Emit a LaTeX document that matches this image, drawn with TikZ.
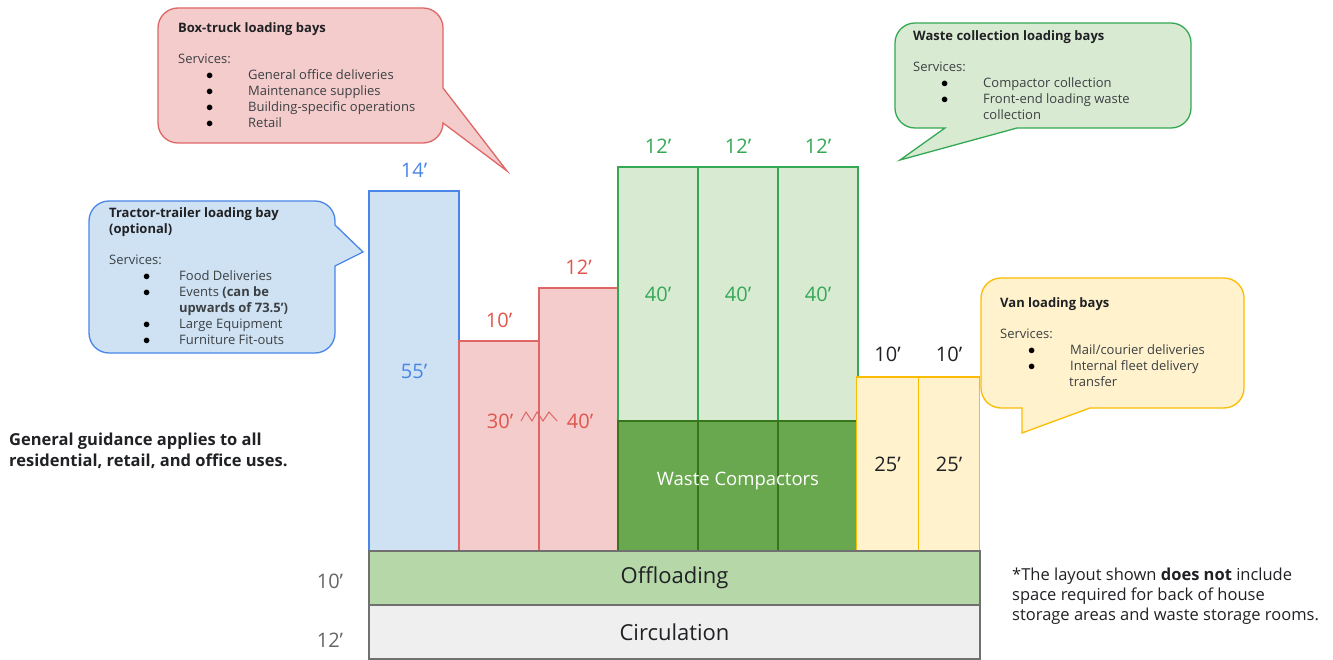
\documentclass[tikz,border=0pt]{standalone}
\usepackage{fontspec}
\setmainfont{Open Sans}
\usetikzlibrary{positioning}

\definecolor{bluefill}{HTML}{CFE2F3}
\definecolor{blueline}{HTML}{4A86E8}
\definecolor{redfill}{HTML}{F4CCCC}
\definecolor{redline}{HTML}{E06666}
\definecolor{redtext}{HTML}{E0554C}
\definecolor{greenfill}{HTML}{D9EAD3}
\definecolor{greenline}{HTML}{34A853}
\definecolor{compfill}{HTML}{6AA84F}
\definecolor{compline}{HTML}{38761D}
\definecolor{yellowfill}{HTML}{FFF2CC}
\definecolor{yellowline}{HTML}{FBBC04}
\definecolor{offfill}{HTML}{B6D7A8}
\definecolor{circfill}{HTML}{EFEFEF}
\definecolor{edgegray}{HTML}{707070}
\definecolor{dimgraytext}{HTML}{666666}
\definecolor{inktext}{HTML}{202124}
\definecolor{bodytext}{HTML}{3C4043}

% bullet line inside a callout
\newcommand{\bayitem}[2][28pt]{\hspace*{#1}\makebox[\dimexpr70pt-#1\relax][l]{\textcolor{black}{\fontsize{15}{16}\selectfont$\bullet$}}#2}

\begin{document}
\begin{tikzpicture}[x=1pt,y=-1pt,
  bay/.style={draw,line width=1.3pt,inner sep=0pt,font=\fontsize{20}{24}\selectfont},
  bluebay/.style={fill=bluefill,draw=blueline,text=blueline},
  redbay/.style={fill=redfill,draw=redline,text=redtext},
  greenbay/.style={fill=greenfill,draw=greenline,text=greenline},
  compbay/.style={fill=compfill,draw=compline},
  vanbay/.style={fill=yellowfill,draw=yellowline,text=inktext},
  dimlabel/.style={font=\fontsize{20}{24}\selectfont},
  calltext/.style={align=left,inner sep=0pt,font=\fontsize{13}{16}\selectfont,text=bodytext},
  callout/.style={line width=1.3pt}]
  \useasboundingbox (0,0) rectangle (1333,660);

  % callouts
  \draw[callout,fill=redfill,draw=redline] (443,123) [rounded corners=20] -- (443,143) -- (158,143) -- (158,8) -- (443,8) [sharp corners] -- (443,88) -- (507,171) -- cycle;
  \node[calltext,anchor=north west] (boxtext) at (178,22) {\textcolor{inktext}{\textbf{Box-truck loading bays}}\\[15pt]
    Services:\\ \bayitem{General office deliveries}\\ \bayitem{Maintenance supplies}\\
    \bayitem{Building-specific operations}\\ \bayitem{Retail}};

  \draw[callout,fill=bluefill,draw=blueline] (335,266) [rounded corners=20] -- (335,353) -- (89,353) -- (89,201) -- (335,201) [sharp corners] -- (335,225) -- (363,252) -- cycle;
  \node[calltext,anchor=north west] (tractortext) at (109,207) {\textcolor{inktext}{\textbf{Tractor-trailer loading bay}}\\
    \textcolor{inktext}{\textbf{(optional)}}\\[15pt]
    Services:\\ \bayitem[34pt]{Food Deliveries}\\ \bayitem[34pt]{Events \textbf{(can be}}\\
    \hspace*{70pt}\textbf{upwards of 73.5’)}\\ \bayitem[34pt]{Large Equipment}\\ \bayitem[34pt]{Furniture Fit-outs}};

  \draw[callout,fill=greenfill,draw=greenline] (1017,128) [rounded corners=20] -- (1191,128) -- (1191,23) -- (895,23) -- (895,128) [sharp corners] -- (945,128) -- (900,160) -- cycle;
  \node[calltext,anchor=north west] (wastetext) at (913,30) {\textcolor{inktext}{\textbf{Waste collection loading bays}}\\[15pt]
    Services:\\ \bayitem{Compactor collection}\\ \bayitem{Front-end loading waste}\\
    \hspace*{70pt}collection};

  \draw[callout,fill=yellowfill,draw=yellowline] (1090,408) [rounded corners=20] -- (1244,408) -- (1244,278) -- (981,278) -- (981,408) [sharp corners] -- (1022,408) -- (1022,433) -- cycle;
  \node[calltext,anchor=north west] (vantext) at (1000,297) {\textcolor{inktext}{\textbf{Van loading bays}}\\[15pt]
    Services:\\ \bayitem{Mail/courier deliveries}\\ \bayitem{Internal fleet delivery}\\
    \hspace*{69pt}transfer};

  % loading bays
  \node[bay,bluebay,minimum width=90pt,minimum height=360pt] (tractorbay) at (414,371) {55’};
  \node[dimlabel,text=blueline,above=9pt of tractorbay] (tractorwidth) {14’};

  \node[bay,redbay,minimum width=80pt,minimum height=210pt] (boxbayA) at (499,446) {};
  \node[bay,redbay,minimum width=79pt,minimum height=263pt] (boxbayB) at (578.5,419.5) {};
  \node[dimlabel,text=redtext] (boxdepthA) at (500,421) {30’};
  \node[dimlabel,text=redtext] (boxdepthB) at (580,421) {40’};
  \node[dimlabel,text=redtext,above=9pt of boxbayA] (boxwidthA) {10’};
  \node[dimlabel,text=redtext,above=9pt of boxbayB] (boxwidthB) {12’};
  \draw[redline,line width=1pt] (521,421) -- (526,412) -- (532,421) -- (537,412) -- (543,421) -- (549,412) -- (557,421);

  \foreach \n/\x in {A/658,B/738,C/818} {
    \node[bay,greenbay,minimum width=80pt,minimum height=254pt] (wastebay\n) at (\x,294) {40’};
    \node[bay,compbay,minimum width=80pt,minimum height=130pt] (compact\n) at (\x,486) {};
    \node[dimlabel,text=greenline,above=9pt of wastebay\n] (wastewidth\n) {12’};
  }
  \node[font=\fontsize{18.5}{22}\selectfont,text=white] (compacttext) at (738,481) {Waste Compactors};

  \foreach \n/\x in {A/887.5,B/949} {
    \node[bay,vanbay,minimum width=61.5pt,minimum height=174pt] (vanbay\n) at (\x,464) {25’};
    \node[dimlabel,text=inktext,above=11pt of vanbay\n] (vanwidth\n) {10’};
  }

  % aisles
  \node[bay,fill=offfill,draw=edgegray,text=inktext,font=\fontsize{22}{26}\selectfont,minimum width=611pt,minimum height=54pt] (offload) at (674.5,578) {Offloading};
  \node[bay,fill=circfill,draw=edgegray,text=inktext,font=\fontsize{22}{26}\selectfont,minimum width=611pt,minimum height=54pt] (circ) at (674.5,632) {Circulation};
  \node[dimlabel,text=dimgraytext] (offdepth) at (330,581) {10’};
  \node[dimlabel,text=dimgraytext] (circdepth) at (330,640) {12’};

  % notes
  \node[anchor=west,align=left,inner sep=0pt,text=inktext,font=\fontsize{16.5}{21}\selectfont\bfseries] (guidance) at (9,451) {General guidance applies to all\\residential, retail, and office uses.};
  \node[anchor=west,align=left,inner sep=0pt,text=inktext,font=\fontsize{16.5}{20}\selectfont] (layoutnote) at (1012,596) {*The layout shown \textbf{does not} include\\space required for back of house\\storage areas and waste storage rooms.};
\end{tikzpicture}
\end{document}
